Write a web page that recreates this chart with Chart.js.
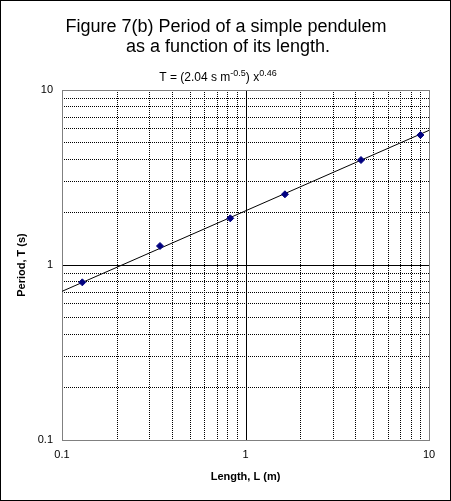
<!DOCTYPE html>
<html>
<head>
<meta charset="utf-8">
<script src="https://cdn.jsdelivr.net/npm/chart.js@4.4.1/dist/chart.umd.min.js"></script>
<style>
    html, body { margin: 0; padding: 0; background: #fff; }
</style>
</head>
<body>
<canvas id="grafico" width="451" height="501"></canvas>
<script>
// Datos (longitud en m, periodo en s)
const longitud = [0.129, 0.342, 0.826, 1.64, 4.26, 8.98];
const periodo = [0.796, 1.284, 1.848, 2.535, 3.98, 5.53];
// Extremos de la recta de ajuste T = 2.04 x^0.46
const ajusteX = [0.1, 10];
const ajusteY = [0.707, 5.88];
// Divisiones de la rejilla y etiquetas visibles
const divisiones = [0.1, 0.2, 0.3, 0.4, 0.5, 0.6, 0.7, 0.8, 0.9, 1, 2, 3, 4, 5, 6, 7, 8, 9, 10];
const etiquetas = [0.1, 1, 10];

const FUENTE = '"Liberation Sans", Arial, sans-serif';

const marco = {
    id: 'marco',
    beforeDatasetsDraw(chart) {
        const { ctx, chartArea: a, scales: { x, y } } = chart;
        ctx.save();
        ctx.lineWidth = 1;
        // Lineas solidas en 1
        const px = Math.round(x.getPixelForValue(1)) + 0.5;
        const py = Math.round(y.getPixelForValue(1)) + 0.5;
        ctx.strokeStyle = '#000';
        ctx.beginPath();
        ctx.moveTo(px, a.top);
        ctx.lineTo(px, a.bottom + 1);
        ctx.moveTo(a.left, py);
        ctx.lineTo(a.right + 1, py);
        ctx.stroke();
        // Borde gris del area del grafico
        ctx.strokeStyle = '#808080';
        ctx.strokeRect(a.left + 0.5, a.top + 0.5, a.width, a.height);
        ctx.restore();
    },
    afterDraw(chart) {
        const { ctx } = chart;
        ctx.save();
        // Borde exterior
        ctx.strokeStyle = '#000';
        ctx.lineWidth = 1;
        ctx.strokeRect(0.5, 0.5, 450, 500);
        // Titulo
        ctx.fillStyle = '#000';
        ctx.textAlign = 'center';
        ctx.textBaseline = 'alphabetic';
        ctx.font = '18px ' + FUENTE;
        ctx.fillText('Figure 7(b) Period of a simple pendulem', 226, 32);
        ctx.fillText('as a function of its length.', 228, 52);
        // Subtitulo con exponentes
        const partes = [
            ['T = (2.04 s m', false],
            ['-0.5', true],
            [') x', false],
            ['0.46', true]
        ];
        const fuenteNormal = '12px ' + FUENTE;
        const fuenteSup = '9px ' + FUENTE;
        let ancho = 0;
        partes.forEach(([t, sup]) => {
            ctx.font = sup ? fuenteSup : fuenteNormal;
            ancho += ctx.measureText(t).width;
        });
        let cx = 218 - ancho / 2;
        ctx.textAlign = 'left';
        partes.forEach(([t, sup]) => {
            ctx.font = sup ? fuenteSup : fuenteNormal;
            ctx.fillText(t, cx, sup ? 76 : 81);
            cx += ctx.measureText(t).width;
        });
        ctx.restore();
    }
};

const colorRejilla = (c) => etiquetas.includes(c.tick.value) ? 'rgba(0,0,0,0)' : '#000';

new Chart(document.getElementById('grafico').getContext('2d'), {
    type: 'scatter',
    data: {
        datasets: [
            {
                label: 'Periodo',
                data: longitud.map((v, i) => ({ x: v, y: periodo[i] })),
                pointStyle: 'rectRot',
                pointRadius: 3.5,
                backgroundColor: '#000080',
                borderColor: '#000080',
                borderWidth: 1,
                showLine: false
            },
            {
                label: 'Ajuste',
                data: ajusteX.map((v, i) => ({ x: v, y: ajusteY[i] })),
                showLine: true,
                pointRadius: 0,
                borderColor: '#000',
                borderWidth: 1
            }
        ]
    },
    options: {
        responsive: false,
        animation: false,
        devicePixelRatio: 1,
        layout: { padding: { top: 90, left: 0, right: 22, bottom: 0 } },
        plugins: {
            legend: { display: false },
            tooltip: { enabled: false }
        },
        scales: {
            x: {
                type: 'logarithmic',
                min: 0.1,
                max: 10,
                afterBuildTicks: (s) => { s.ticks = divisiones.map(v => ({ value: v })); },
                afterFit: (s) => { s.height = 61; },
                ticks: {
                    autoSkip: false,
                    maxRotation: 0,
                    padding: 8,
                    color: '#000',
                    font: { family: FUENTE, size: 11 },
                    callback: (v) => etiquetas.includes(v) ? String(v) : ''
                },
                grid: { color: colorRejilla, drawTicks: false, lineWidth: 1 },
                border: { display: false, dash: [1, 1] },
                title: {
                    display: true,
                    text: 'Length, L (m)',
                    color: '#000',
                    font: { family: FUENTE, size: 11, weight: 'bold' },
                    padding: { top: 0, bottom: 17 }
                }
            },
            y: {
                type: 'logarithmic',
                min: 0.1,
                max: 10,
                afterBuildTicks: (s) => { s.ticks = divisiones.map(v => ({ value: v })); },
                afterFit: (s) => { s.width = 62; },
                ticks: {
                    autoSkip: false,
                    padding: 9,
                    color: '#000',
                    font: { family: FUENTE, size: 11 },
                    callback: (v) => etiquetas.includes(v) ? String(v) : ''
                },
                grid: { color: colorRejilla, drawTicks: false, lineWidth: 1 },
                border: { display: false, dash: [1, 1] },
                title: {
                    display: true,
                    text: 'Period, T (s)',
                    color: '#000',
                    font: { family: FUENTE, size: 11, weight: 'bold' },
                    padding: { top: 15, bottom: 0 }
                }
            }
        }
    },
    plugins: [marco]
});
</script>
</body>
</html>
